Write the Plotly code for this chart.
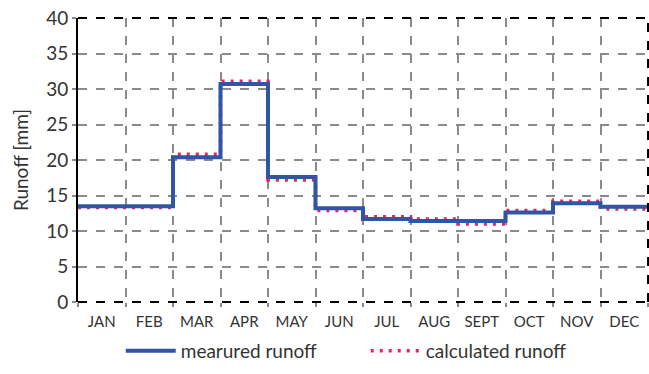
import plotly.graph_objects as go

months = ["JAN", "FEB", "MAR", "APR", "MAY", "JUN", "JUL", "AUG", "SEPT", "OCT", "NOV", "DEC"]
measured = [13.5, 13.5, 20.4, 30.7, 17.6, 13.2, 11.7, 11.4, 11.4, 12.6, 13.9, 13.4]
calculated = [13.3, 13.3, 20.8, 31.1, 17.2, 12.9, 12.0, 11.7, 11.0, 12.9, 14.2, 13.1]
yticks = [0, 5, 10, 15, 20, 25, 30, 35, 40]

n = len(months)
xs = list(range(n + 1))
meas_step = measured + [measured[-1]]
calc_step = calculated + [calculated[-1]]

fig = go.Figure()
fig.add_trace(go.Scatter(
    x=xs, y=calc_step, mode="lines", line_shape="hv", name="calculated runoff",
    line=dict(color="#f0205e", width=3.5, dash="3px,6px")))
fig.add_trace(go.Scatter(
    x=xs, y=meas_step, mode="lines", line_shape="hv", name="mearured runoff",
    line=dict(color="#2f55a4", width=4)))

grid = "#8a8a8a"
fig.update_xaxes(
    range=[0, n], tickvals=[i + 0.5 for i in range(n)], ticktext=months,
    showgrid=False, zeroline=False, ticks="", tickfont=dict(size=15, color="#333"),
    ticklabelstandoff=9, automargin=False,
    minor=dict(tick0=0, dtick=1, showgrid=True, gridcolor=grid, griddash="dash",
               gridwidth=2, ticks="outside", ticklen=4, tickcolor=grid, tickwidth=2),
    showline=False)
fig.update_yaxes(
    range=[0, 40], tickvals=yticks, showgrid=True, gridcolor=grid, griddash="dash",
    gridwidth=2, zeroline=False, ticks="outside", ticklen=4, tickcolor=grid, tickwidth=2,
    tickfont=dict(size=19, color="#333"), showline=True, linecolor="black", linewidth=2,
    automargin=False,
    title=dict(text="Runoff [mm]", font=dict(size=19, color="#333"), standoff=13))

for (x0, y0, x1, y1) in [(0, 0, 1, 0), (0, 1, 1, 1), (1, 0, 1, 1)]:
    fig.add_shape(type="line", xref="x domain", yref="y domain", x0=x0, y0=y0, x1=x1, y1=y1,
                  line=dict(color="black", width=2, dash="dash"))

fig.update_layout(
    width=649, height=374, margin=dict(l=78, r=1, t=18, b=72),
    paper_bgcolor="white", plot_bgcolor="white",
    font=dict(family="Lato, 'Open Sans', sans-serif", color="#333"),
    showlegend=True,
    legend=dict(orientation="h", x=0.075, xanchor="left", y=-0.105, yanchor="top",
                traceorder="reversed", font=dict(size=19), itemwidth=50,
                entrywidth=180, entrywidthmode="pixels"),
)
fig.write_html("out.html", config={"displayModeBar": False},
               post_script="document.body.style.margin='0';document.body.style.overflow='hidden';")
